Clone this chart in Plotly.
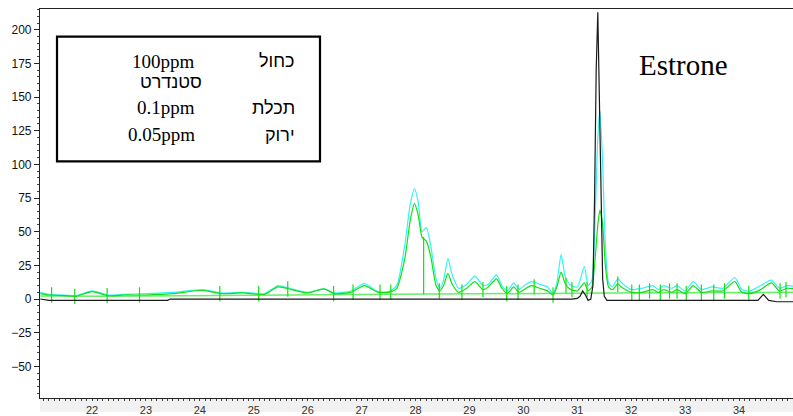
import plotly.graph_objects as go

# ---- chromatogram data (retention time in min, detector response) ----
std_time = [21.04, 21.2, 23.4, 23.45, 30.9, 31.0, 31.05, 31.1, 31.15, 31.2, 31.25,
            31.29, 31.32, 31.35, 31.38, 31.41, 31.44, 31.47, 31.5, 31.55, 31.7, 32.0,
            32.5, 33.0, 33.5, 34.0, 34.35, 34.45, 34.55, 34.7, 35.1]
std_resp = [0, -1, -1, 0, 0, 0.5, 2, 6, 3, -1, 0,
            10, 75, 170, 213, 150, 60, 15, 2, -1, -1, -1,
            -1.5, -1, -1.5, -1.5, -1, 3.5, -1, -2, -2]

c01_time = [21.04, 21.2, 21.5, 21.7, 22.0, 22.3, 22.6, 23.0, 23.5, 24.05, 24.4, 24.8,
            25.2, 25.45, 25.7, 26.0, 26.3, 26.5, 26.8, 27.05, 27.3, 27.5, 27.65, 27.8,
            27.9, 27.98, 28.05, 28.12, 28.2, 28.28, 28.38, 28.45, 28.52, 28.6, 28.68,
            28.8, 28.95, 29.1, 29.25, 29.35, 29.5, 29.6, 29.7, 29.82, 29.92, 30.05,
            30.15, 30.3, 30.45, 30.55, 30.62, 30.7, 30.78, 30.88, 31.0, 31.13, 31.2,
            31.27, 31.33, 31.38, 31.42, 31.47, 31.52, 31.58, 31.65, 31.75, 31.85, 32.0,
            32.2, 32.4, 32.5, 32.6, 32.75, 32.85, 33.0, 33.15, 33.3, 33.5, 33.7, 33.92,
            34.05, 34.2, 34.4, 34.6, 34.75, 34.9, 35.1]
c01_resp = [5, 3.5, 3, 2.5, 6, 3, 3.5, 4, 5, 7, 4.5, 5,
            4, 10, 7.5, 5, 7.5, 4.5, 6, 11.5, 5.5, 5.5, 10, 40,
            70, 82, 72, 50, 53, 40, 15, 8, 14, 30, 18,
            8, 11, 17, 10, 11, 18, 10, 6, 12, 7, 11,
            13, 11, 9, 4, 12, 33, 16, 10, 9, 24, 10,
            14, 60, 120, 140, 100, 40, 12, 9, 15, 11, 7,
            8, 10, 7, 10, 8, 10, 6, 13, 7, 9, 8, 16,
            7, 6, 10, 14, 8, 10, 9]

c005_time = c01_time
c005_resp = [4, 3, 2.5, 2, 5.5, 2.5, 3, 3, 4, 6.5, 4, 4.5,
             3.5, 9, 7, 4.5, 7.5, 4, 5, 10, 5, 5, 8, 30,
             58, 71, 62, 46, 43, 32, 10, 6, 10, 19, 11,
             5, 8, 13, 7, 9, 15, 8, 4, 9, 5, 8,
             10, 8, 6, 3, 9, 20, 11, 7, 6, 12, 6,
             9, 30, 55, 66, 55, 25, 9, 7, 11, 8, 5,
             5, 7, 5, 7, 5, 7, 4, 10, 5, 6, 6, 13,
             5, 4, 7, 12, 6, 8, 7]

# integration baseline and peak-boundary marks of the 0.05 ppm run
base_time = [21.04, 22.3, 27.5, 27.55, 31.7, 35.1]
base_resp = [2.2, 2.0, 3.6, 3.6, 4.4, 5.0]
mark_time = [21.25, 21.68, 22.28, 22.88, 24.37, 25.09, 25.63, 26.48, 26.84, 27.34,
             27.54, 28.44, 28.86, 29.25, 29.69, 29.9, 30.2, 30.55, 30.79, 30.9,
             31.18, 31.75, 32.01, 32.15, 32.34, 32.54, 32.71, 32.85, 33.02, 33.3,
             33.53, 33.73, 34.18, 34.76, 34.87]
mark_resp = [3, 2, 2.5, 3, 4, 4, 7.5, 4, 5, 5,
             5, 6, 5, 7, 4, 5, 9, 3, 10, 7,
             7, 11, 5, 5, 6, 5, 6, 6, 4, 5,
             5, 6, 4, 6, 7]
split_time = [28.15, 28.15]
split_resp = [3.5, 46]

x_ticks = list(range(22, 36))
y_ticks = [-50, -25, 0, 25, 50, 75, 100, 125, 150, 175, 200]

# key text rows: (concentration, colour name in Hebrew)
key_conc = ["100ppm", "0.1ppm", "0.05ppm"]
key_name = ["כחול", "תכלת", "ירוק"]
key_note = "סטנדרט"
peak_name = "Estrone"

W, H = 793, 416
L, R, T, B = 40, 0, 9, 14


def px(x, y):
    """Pixel position in the page -> paper coordinates."""
    return (x - L) / (W - L - R), (H - B - y) / (H - T - B)


GREEN = "#11e011"
CYAN = "#33f3f3"

fig = go.Figure()
fig.add_trace(go.Scatter(x=base_time, y=base_resp, mode="lines",
                         line=dict(color="#66ee66", width=1.5), hoverinfo="skip"))
fig.add_trace(go.Scatter(x=c01_time, y=c01_resp, mode="lines",
                         line=dict(color=CYAN, width=1.2, shape="spline", smoothing=0.6)))
fig.add_trace(go.Scatter(x=c005_time, y=c005_resp, mode="lines",
                         line=dict(color=GREEN, width=1.2, shape="spline", smoothing=0.6)))
fig.add_trace(go.Scatter(x=mark_time, y=mark_resp, mode="markers",
                         marker=dict(symbol="line-ns", size=11,
                                     line=dict(color=GREEN, width=1.2))))
fig.add_trace(go.Scatter(x=split_time, y=split_resp, mode="lines",
                         line=dict(color=GREEN, width=1.2)))
fig.add_trace(go.Scatter(x=std_time, y=std_resp, mode="lines",
                         line=dict(color="#1a1a1a", width=1.2)))

# key box
x0, y0 = px(57, 37)
x1, y1 = px(320, 163)
fig.add_shape(type="rect", xref="paper", yref="paper", x0=x0, y0=y1, x1=x1, y1=y0,
              line=dict(color="black", width=2.2), fillcolor="rgba(0,0,0,0)")

# light band behind the time labels
fig.add_shape(type="rect", xref="paper", yref="paper", x0=0, x1=1,
              y0=px(0, 416)[1], y1=px(0, 403)[1],
              fillcolor="#f1f1f1", line=dict(width=0), layer="below")

serif = "Liberation Serif"
sans = "Liberation Sans"
rows_y = [62, 109, 136]
for conc, name, ry in zip(key_conc, key_name, rows_y):
    ax, ay = px(197, ry)
    fig.add_annotation(x=ax, y=ay, xref="paper", yref="paper", text=conc,
                       showarrow=False, xanchor="right", yanchor="middle",
                       font=dict(family=serif, size=19, color="black"))
    bx, by = px(297, ry)
    fig.add_annotation(x=bx, y=by, xref="paper", yref="paper", text=name,
                       showarrow=False, xanchor="right", yanchor="middle",
                       font=dict(family=sans, size=18, color="black"))
nx, ny = px(204, 83)
fig.add_annotation(x=nx, y=ny, xref="paper", yref="paper", text=key_note,
                   showarrow=False, xanchor="right", yanchor="middle",
                   font=dict(family=sans, size=18, color="black"))
ex, ey = px(637, 66)
fig.add_annotation(x=ex, y=ey, xref="paper", yref="paper", text=peak_name,
                   showarrow=False, xanchor="left", yanchor="middle",
                   font=dict(family=serif, size=29, color="black"))

fig.update_layout(
    width=W, height=H,
    margin=dict(l=L, r=R, t=T, b=B),
    paper_bgcolor="white", plot_bgcolor="white",
    showlegend=False,
    xaxis=dict(range=[21.035, 35.0], tickvals=x_ticks, showgrid=False, zeroline=False,
               showline=True, linecolor="#222", linewidth=1.2, mirror=True,
               ticks="outside", ticklen=2, tickcolor="#444",
               minor=dict(dtick=0.1, ticks="outside", ticklen=2, tickcolor="#444"),
               tickfont=dict(family=sans, size=11, color="#333")),
    yaxis=dict(range=[-73.5, 215.4], tickvals=y_ticks, showgrid=False, zeroline=False,
               showline=True, linecolor="#222", linewidth=1.2,
               ticks="outside", ticklen=5, tickcolor="#222",
               minor=dict(dtick=5, ticks="outside", ticklen=2, tickcolor="#444"),
               tickfont=dict(family=sans, size=12, color="#111")),
)

fig.write_html("out.html")
